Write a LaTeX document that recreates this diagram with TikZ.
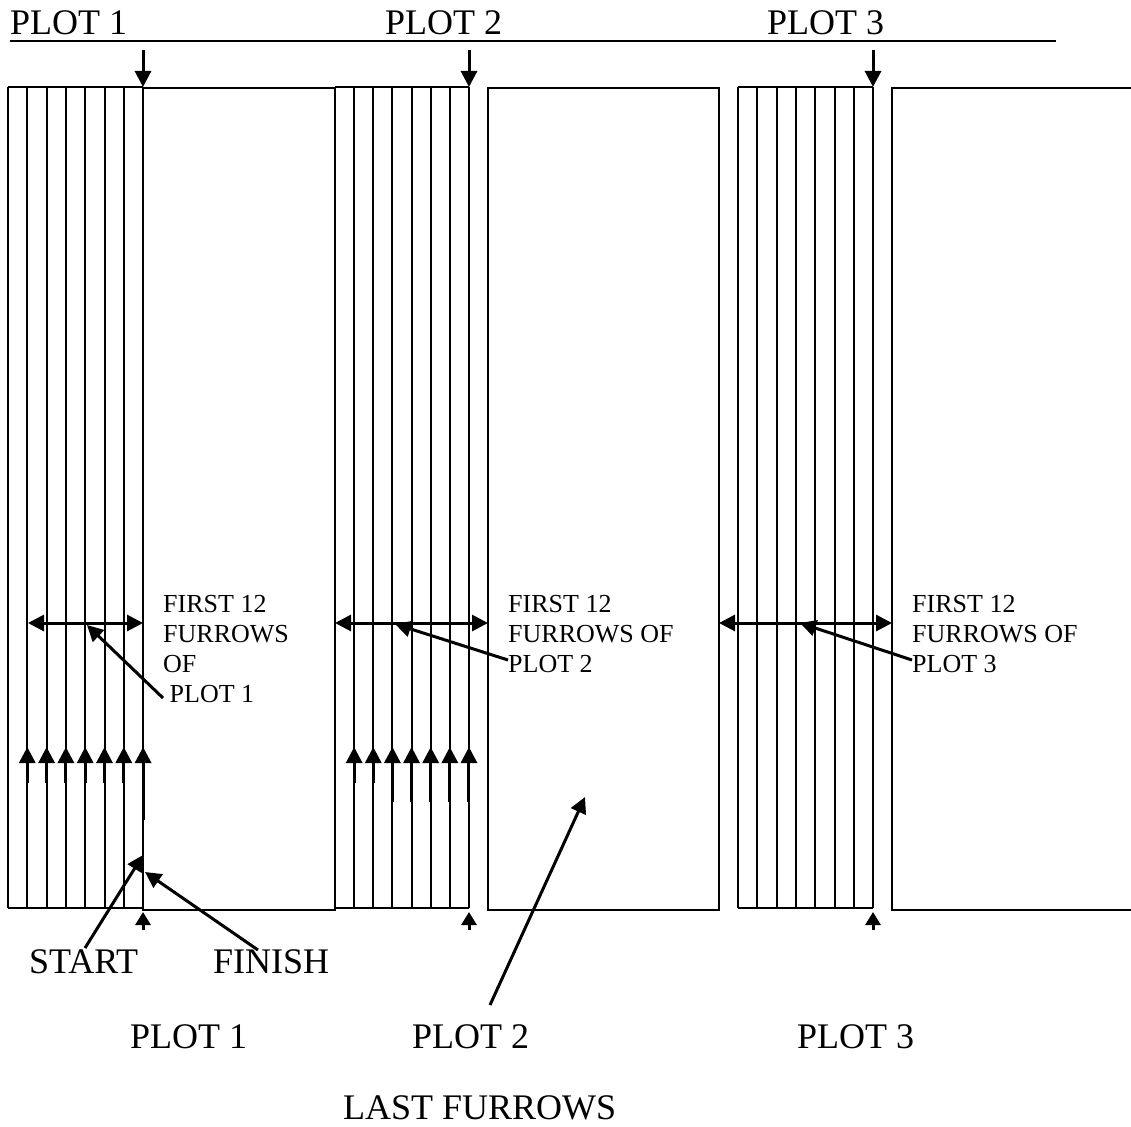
\documentclass[tikz,border=0pt]{standalone}
\usepackage{fontspec}
\setmainfont{Liberation Serif}
\usetikzlibrary{arrows.meta}

\begin{document}
\begin{tikzpicture}[x=1pt, y=-1pt, >={Triangle[length=16pt,width=16pt]},
  bigtext/.style={font=\fontsize{36}{36}\selectfont, inner sep=0pt, anchor=base west},
  smalltext/.style={font=\fontsize{26}{30}\selectfont, inner sep=0pt, align=left, anchor=north west},
  furrow/.style={line width=2pt},
  field/.style={line width=2.4pt},
  arr/.style={line width=3pt},
  tick/.style={line width=3pt, -{Triangle[length=13pt,width=15pt]}}]
  \useasboundingbox (0,0) rectangle (1131,1126);

  % Header
  \node[bigtext] (hdr1) at (10,35) {PLOT 1};
  \node[bigtext] (hdr2) at (385,35) {PLOT 2};
  \node[bigtext] (hdr3) at (767,35) {PLOT 3};
  \draw[line width=2pt] (10,41) -- (1056,41);

  % Plot 1 furrows and field
  \foreach \i in {0,...,7} \draw[furrow] (8+\i*19.3,87) -- (8+\i*19.3,908);
  \draw[field] (8,87) -- (143,87);
  \draw[field] (8,908) -- (143,908);
  \draw[field] (143,88) rectangle (335,910);
  \foreach \i/\b in {1/783,2/783,3/783,4/783,5/783,6/783,7/820}
    \draw[arr, ->] (8+\i*19.3,\b) -- (8+\i*19.3,747);

  % Plot 2 furrows and field
  \foreach \i in {0,...,7} \draw[furrow] (335+\i*19.14,87) -- (335+\i*19.14,908);
  \draw[field] (335,87) -- (469,87);
  \draw[field] (335,908) -- (469,908);
  \draw[field] (488,88) rectangle (719,910);
  \foreach \i/\b in {1/783,2/783,3/802,4/802,5/802,6/802,7/802}
    \draw[arr, ->] (335+\i*19.14,\b) -- (335+\i*19.14,747);

  % Plot 3 furrows and field (runs off the right edge)
  \foreach \i in {0,...,7} \draw[furrow] (738+\i*19.3,87) -- (738+\i*19.3,908);
  \draw[field] (738,87) -- (873,87);
  \draw[field] (738,908) -- (873,908);
  \draw[field] (1131,88) -- (892,88) -- (892,910) -- (1131,910);

  % First furrow markers
  \foreach \x in {143,469,873} {
    \draw[arr, ->] (\x,50) -- (\x,87);
    \draw[tick] (\x,930) -- (\x,912);
  }

  % Width of the first 12 furrows
  \draw[arr, <->] (28,623) -- (143,623);
  \draw[arr, <->] (335,623) -- (488,623);
  \draw[arr, <->] (719,623) -- (892,623);

  \node[smalltext] (first1) at (163,595) {FIRST 12\\FURROWS\\OF\\~PLOT 1};
  \node[smalltext] (first2) at (508,595) {FIRST 12\\FURROWS OF\\PLOT 2};
  \node[smalltext] (first3) at (912,595) {FIRST 12\\FURROWS OF\\PLOT 3};

  \coordinate (p1s) at (163,698); \coordinate (p1e) at (87,625);
  \coordinate (p2s) at (508,660); \coordinate (p2e) at (395,624);
  \coordinate (p3s) at (912,660); \coordinate (p3e) at (800,623);
  \draw[arr, ->] (p1s) -- (p1e);
  \draw[arr, ->] (p2s) -- (p2e);
  \draw[arr, ->] (p3s) -- (p3e);

  % Start and finish
  \node[bigtext] (start) at (29,973) {START};
  \node[bigtext] (finish) at (213,973) {FINISH};
  \coordinate (ss) at (85,948); \coordinate (se) at (143,855);
  \coordinate (fs) at (258,950); \coordinate (fe) at (145,872);
  \draw[arr, ->] (ss) -- (se);
  \draw[arr, ->] (fs) -- (fe);

  % Plot names and last furrows
  \node[bigtext] (plot1) at (130,1048) {PLOT 1};
  \node[bigtext] (plot2) at (412,1048) {PLOT 2};
  \node[bigtext] (plot3) at (797,1048) {PLOT 3};
  \node[bigtext] (last) at (343,1119) {LAST FURROWS};
  \coordinate (ls) at (490,1005); \coordinate (le) at (585,797);
  \draw[arr, ->] (ls) -- (le);
\end{tikzpicture}
\end{document}
